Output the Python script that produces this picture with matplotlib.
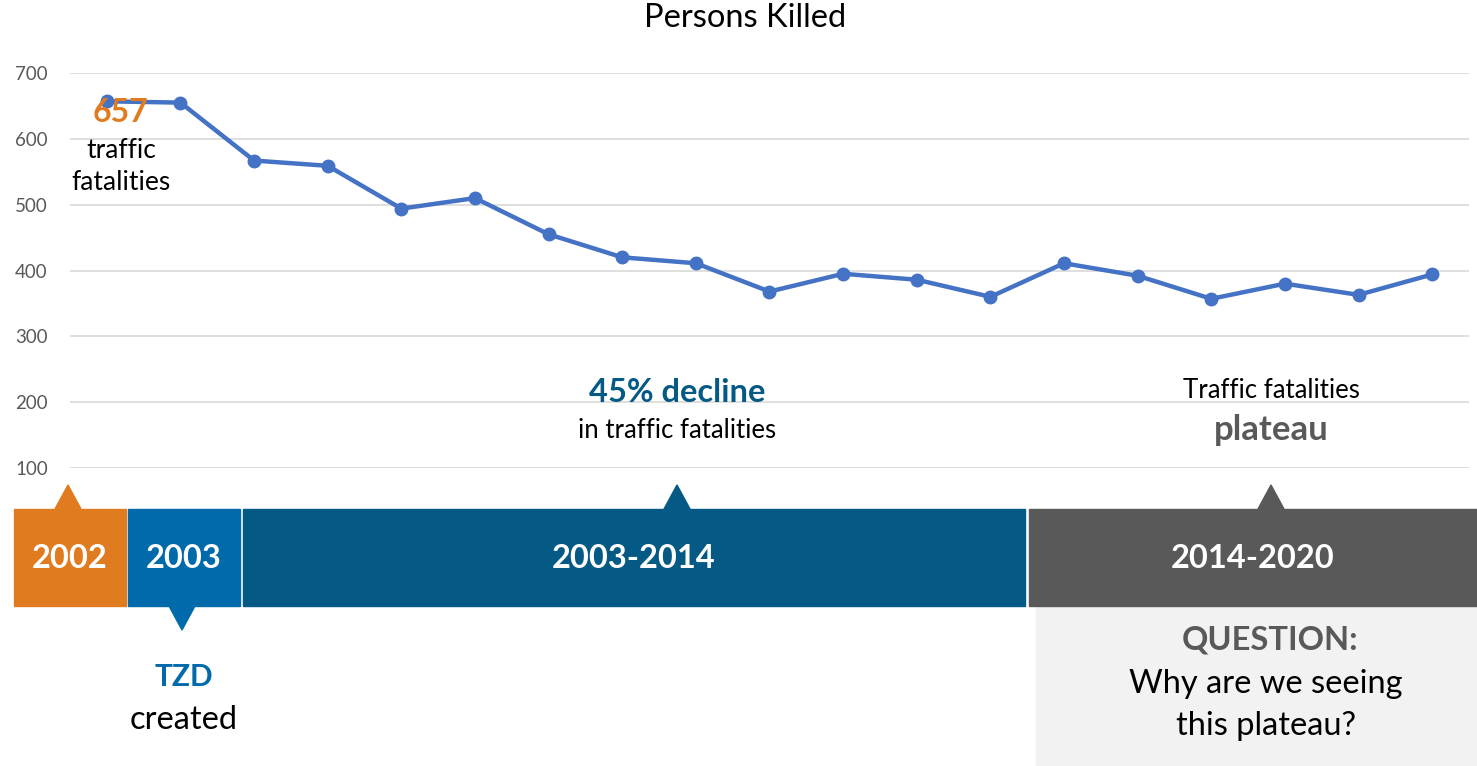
import matplotlib.pyplot as plt
from matplotlib.patches import Rectangle, Polygon

plt.rcParams['font.family'] = ['Lato', 'DejaVu Sans']

# persons killed per year
years = list(range(2002, 2021))
killed = [657, 655, 567, 559, 494, 510, 455, 420, 411, 368,
          395, 386, 360, 411, 392, 357, 380, 363, 394]
yticks = [100, 200, 300, 400, 500, 600, 700]

# timeline bands: label, colour
bands = ['2002', '2003', '2003-2014', '2014-2020']
band_colors = ['#E07B1F', '#006AAA', '#045A84', '#595959']

W, H = 1477, 766
fig = plt.figure(figsize=(W / 100, H / 100), dpi=100)

# main line chart
ax = fig.add_axes([70 / W, 1 - 468 / H, 1399 / W, 395 / H])
ax.plot(range(len(years)), killed, color='#4472C4', lw=3.2, marker='o',
        markersize=9, zorder=3)
ax.set_xlim(-0.5, len(years) - 0.5)
ax.set_ylim(100, 700)
ax.set_yticks(yticks)
ax.set_xticks([])
ax.grid(axis='y', color='#D9D9D9', lw=1.2)
ax.set_axisbelow(True)
for s in ax.spines.values():
    s.set_visible(False)
ax.tick_params(axis='y', length=0, pad=16, labelsize=13.5, labelcolor='#595959')

# overlay in pixel coords for the timeline and notes
ov = fig.add_axes([0, 0, 1, 1], zorder=5)
ov.set_xlim(0, W)
ov.set_ylim(H, 0)
ov.axis('off')
ov.patch.set_alpha(0)

spans = [(14, 126), (128, 240), (243, 1025), (1029, 1477)]
for (x0, x1), lab, c in zip(spans, bands, band_colors):
    ov.add_patch(Rectangle((x0, 509), x1 - x0, 97, color=c))
    ov.text((x0 + x1) / 2, 558, lab, color='white', fontsize=23.5,
            fontweight='bold', ha='center', va='center')

def tri(x, up, c):
    if up:
        pts = [(x - 13, 509), (x + 13, 509), (x, 485)]
    else:
        pts = [(x - 13, 606), (x + 13, 606), (x, 630)]
    ov.add_patch(Polygon(pts, closed=True, color=c))

tri(68, True, band_colors[0])
tri(182, False, band_colors[1])
tri(677, True, band_colors[2])
tri(1271, True, band_colors[3])

ov.add_patch(Rectangle((1036, 606), 441, 160, color='#F2F2F2', zorder=0))

# annotations
ov.text(745, 18, 'Persons Killed', fontsize=23.5, ha='center', va='center')
ov.text(121, 112, '657', color='#E07B1F', fontsize=23, fontweight='bold',
        ha='center', va='center')
ov.text(121, 150, 'traffic', fontsize=19, ha='center', va='center')
ov.text(121, 183, 'fatalities', fontsize=19, ha='center', va='center')

ov.text(677, 393, '45% decline', color='#045A84', fontsize=23.5,
        fontweight='bold', ha='center', va='center')
ov.text(677, 431, 'in traffic fatalities', fontsize=18.5, ha='center', va='center')

ov.text(1271, 390, 'Traffic fatalities', fontsize=18.5, ha='center', va='center')
ov.text(1271, 430, 'plateau', color='#595959', fontsize=25,
        fontweight='bold', ha='center', va='center')

ov.text(184, 677, 'TZD', color='#006AAA', fontsize=21.5, fontweight='bold',
        ha='center', va='center')
ov.text(184, 720, 'created', fontsize=23.5, ha='center', va='center')

ov.text(1270, 640, 'QUESTION:', color='#595959', fontsize=23.5,
        fontweight='bold', ha='center', va='center')
ov.text(1266, 684, 'Why are we seeing', fontsize=23.5, ha='center', va='center')
ov.text(1266, 726, 'this plateau?', fontsize=23.5, ha='center', va='center')

fig.savefig('out.png', dpi=100)
